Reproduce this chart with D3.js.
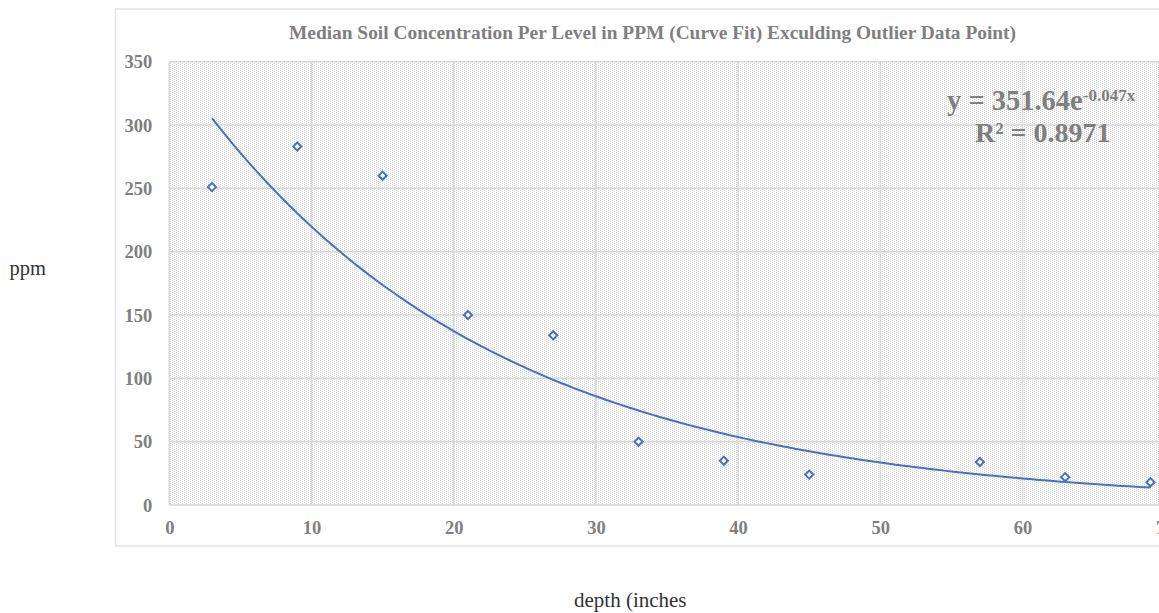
<!DOCTYPE html>
<html><head><meta charset="utf-8">
<script src="https://cdn.jsdelivr.net/npm/d3@7"></script>
<style>html,body{margin:0;padding:0;background:#fff;overflow:hidden}</style>
</head><body>
<svg id="chart" width="1159" height="613"></svg>
<script>
const depth = [3, 9, 15, 21, 27, 33, 39, 45, 57, 63, 69];
const ppm = [251, 283, 260, 150, 134, 50, 35, 24, 34, 22, 18];
const xTicks = [0, 10, 20, 30, 40, 50, 60, 70];
const yTicks = [0, 50, 100, 150, 200, 250, 300, 350];
const trendCoef = [351.64, -0.047];
const trendRange = [3, 69];
const titleText = "Median Soil Concentration Per Level in PPM (Curve Fit) Exculding Outlier Data Point)";

const svg = d3.select("#chart");
const gray = "#7f7f7f";
const grid = "#d9d9d9";
const blue = "#4472c4";

const x = d3.scaleLinear().domain([0, 70]).range([169.3, 1164.7]);
const y = d3.scaleLinear().domain([0, 350]).range([505, 61.7]);

// chart area border
svg.append("rect").attr("x", 115.5).attr("y", 9).attr("width", 1100).attr("height", 537)
  .attr("fill", "#fff").attr("stroke", "#e3e3e3").attr("stroke-width", 1.5);

// pattern
const defs = svg.append("defs");
const pat = defs.append("pattern").attr("id", "dots").attr("patternUnits", "userSpaceOnUse")
  .attr("width", 4).attr("height", 2);
pat.append("rect").attr("width", 4).attr("height", 2).attr("fill", "#ffffff");
pat.append("rect").attr("x", 0).attr("y", 0).attr("width", 1).attr("height", 1).attr("fill", "#d6d6d6");
pat.append("rect").attr("x", 2).attr("y", 1).attr("width", 1).attr("height", 1).attr("fill", "#d6d6d6");

svg.append("rect").attr("x", x(0)).attr("y", y(350)).attr("width", x(70) - x(0)).attr("height", y(0) - y(350))
  .attr("fill", "url(#dots)");

// gridlines
svg.append("g").selectAll("line").data(yTicks).join("line")
  .attr("x1", x(0)).attr("x2", x(70)).attr("y1", d => y(d)).attr("y2", d => y(d))
  .attr("stroke", grid).attr("stroke-width", 1.6);
svg.append("g").selectAll("line").data(xTicks).join("line")
  .attr("y1", y(0)).attr("y2", y(350)).attr("x1", d => x(d)).attr("x2", d => x(d))
  .attr("stroke", grid).attr("stroke-width", 1.6);

// axes tick labels
const font = "'Liberation Serif', 'Times New Roman', serif";
const yAxis = d3.axisLeft(y).tickValues(yTicks).tickSize(0).tickPadding(17);
const gy = svg.append("g").attr("transform", `translate(${x(0)},0)`).call(yAxis);
gy.select(".domain").remove();
gy.selectAll("text").attr("font-family", font).attr("font-weight", "bold").attr("font-size", 18.5)
  .attr("fill", gray).attr("dy", "0.34em");

const xAxis = d3.axisBottom(x).tickValues(xTicks).tickSize(0).tickPadding(16);
const gx = svg.append("g").attr("transform", `translate(0,${y(0)})`).call(xAxis);
gx.select(".domain").remove();
gx.selectAll("text").attr("font-family", font).attr("font-weight", "bold").attr("font-size", 18.5)
  .attr("fill", gray).attr("dy", "0.71em");

// trendline
const tx = d3.range(trendRange[0], trendRange[1] + 0.001, 0.5);
const line = d3.line().x(d => x(d)).y(d => y(trendCoef[0] * Math.exp(trendCoef[1] * d))).curve(d3.curveMonotoneX);
svg.append("path").attr("d", line(tx)).attr("fill", "none").attr("stroke", blue).attr("stroke-width", 2);

// points
const sym = d3.symbol().type(d3.symbolDiamond2).size(42);
svg.append("g").selectAll("path").data(depth.map((d, i) => [d, ppm[i]])).join("path")
  .attr("d", sym).attr("transform", d => `translate(${x(d[0])},${y(d[1])})`)
  .attr("fill", "#fff").attr("stroke", blue).attr("stroke-width", 2);

// title
svg.append("text").attr("x", 289).attr("y", 39).attr("font-family", font).attr("font-weight", "bold")
  .attr("font-size", 19).attr("fill", gray).attr("textLength", 727).attr("lengthAdjust", "spacingAndGlyphs")
  .text(titleText);

// equation
const eq = svg.append("text").attr("x", 947).attr("y", 110).attr("font-family", font).attr("font-weight", "bold")
  .attr("font-size", 28.5).attr("fill", gray);
eq.append("tspan").text("y = 351.64e");
eq.append("tspan").attr("font-size", 17).attr("dy", -9).text("-0.047x");
svg.append("text").attr("x", 975).attr("y", 141.7).attr("font-family", font).attr("font-weight", "bold")
  .attr("font-size", 28).attr("fill", gray).text("R² = 0.8971");

// axis titles
svg.append("text").attr("x", 9.5).attr("y", 275).attr("font-family", font).attr("font-size", 20.5)
  .attr("fill", "#333").text("ppm");
svg.append("text").attr("x", 574).attr("y", 607).attr("font-family", font).attr("font-size", 21)
  .attr("fill", "#333").text("depth (inches");
</script>
</body></html>
